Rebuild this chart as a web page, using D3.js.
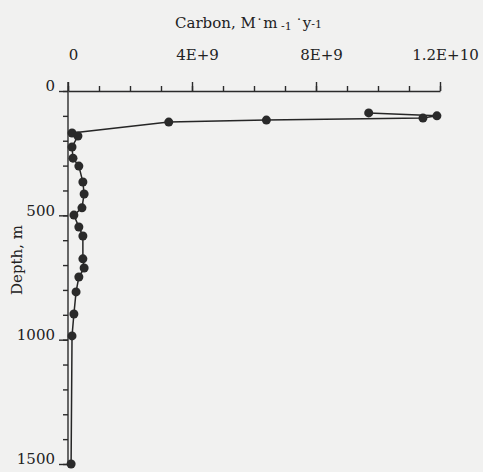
<!DOCTYPE html>
<html>
<head>
<meta charset="utf-8">
<script src="https://cdn.jsdelivr.net/npm/d3@7"></script>
<style>
  body { margin: 0; background: #f1f1f0; }
  svg { display: block; font-family: "DejaVu Serif", serif; }
  .axis path, .axis line { stroke: #2b2b2b; stroke-width: 1.4; }
  .axis text { fill: #222; font-size: 15px; font-family: "DejaVu Serif", serif; }
</style>
</head>
<body>
<svg width="483" height="472"></svg>
<script>
// carbon flux (x) against depth (y)
const carbon = [9.7e9, 1.19e10, 1.145e10, 6.4e9, 3.25e9, 1.3e8, 3.2e8, 1.3e8, 1.6e8, 3.5e8, 4.8e8, 5.2e8,
  4.5e8, 1.9e8, 3.5e8, 4.8e8, 4.8e8, 5.2e8, 3.5e8, 2.6e8, 1.9e8, 1.3e8, 1.0e8];
const depth = [88, 100, 109, 117, 125, 169, 181, 225, 270, 302, 366, 414,
  470, 499, 547, 583, 675, 712, 748, 808, 897, 985, 1500];

const xMajor = [0, 4e9, 8e9, 1.2e10];
const xLabels = ["0", "4E+9", "8E+9", "1.2E+10"];
const xMinor = d3.range(0, 1.2e10 + 1, 1e9);
const yMajor = [0, 500, 1000, 1500];
const yLabels = ["0", "500", "1000", "1500"];
const yMinor = d3.range(0, 1501, 100);

const svg = d3.select("svg");

const x = d3.scaleLinear().domain([0, 1.2e10]).range([68, 440]);
const y = d3.scaleLinear().domain([0, 1500]).range([91, 464]);

// minor ticks first
svg.append("g")
  .attr("class", "axis")
  .attr("transform", "translate(0,91)")
  .call(d3.axisTop(x).tickValues(xMinor).tickSize(5).tickFormat(""))
  .call(g => g.select(".domain").remove());

svg.append("g")
  .attr("class", "axis")
  .attr("transform", "translate(68,0)")
  .call(d3.axisLeft(y).tickValues(yMinor).tickSize(5).tickFormat(""))
  .call(g => g.select(".domain").remove());

// major ticks with labels
const xAxis = svg.append("g")
  .attr("class", "axis")
  .attr("transform", "translate(0,91)")
  .call(d3.axisTop(x).tickValues(xMajor).tickSize(9).tickSizeOuter(0).tickPadding(22)
    .tickFormat((d, i) => xLabels[i]));
xAxis.selectAll("text").attr("dx", 5);

const yAxis = svg.append("g")
  .attr("class", "axis")
  .attr("transform", "translate(68,0)")
  .call(d3.axisLeft(y).tickValues(yMajor).tickSize(9).tickSizeOuter(0).tickPadding(4)
    .tickFormat((d, i) => yLabels[i]));
yAxis.selectAll("text").attr("y", -5);
yAxis.select(".domain").attr("d", "M0,82V464");

// profile line
const pts = carbon.map((c, i) => [c, depth[i]]);
const line = d3.line()
  .x(d => x(d[0]))
  .y(d => y(d[1]));

svg.append("path")
  .datum(pts)
  .attr("d", line)
  .attr("fill", "none")
  .attr("stroke", "#262626")
  .attr("stroke-width", 1.5);

svg.selectAll("circle.pt")
  .data(pts)
  .enter()
  .append("circle")
  .attr("class", "pt")
  .attr("cx", d => x(d[0]))
  .attr("cy", d => y(d[1]))
  .attr("r", 4.5)
  .attr("fill", "#2a2a2a");

// axis titles
const title = svg.append("text")
  .attr("x", 175)
  .attr("y", 28)
  .attr("font-size", 15)
  .attr("fill", "#222");
title.append("tspan").text("Carbon, M");
title.append("tspan").attr("dy", 2).text("˙");
title.append("tspan").attr("dy", -2).text("m");
title.append("tspan").attr("font-size", 11).attr("dy", 2).text(" -1 ");
title.append("tspan").attr("dy", 0).text("˙");
title.append("tspan").attr("dy", -2).text("y");
title.append("tspan").attr("font-size", 11).attr("dy", 0).text("-1");

svg.append("text")
  .attr("transform", "translate(22,260) rotate(-90)")
  .attr("text-anchor", "middle")
  .attr("font-size", 15)
  .attr("fill", "#222")
  .text("Depth, m");
</script>
</body>
</html>
